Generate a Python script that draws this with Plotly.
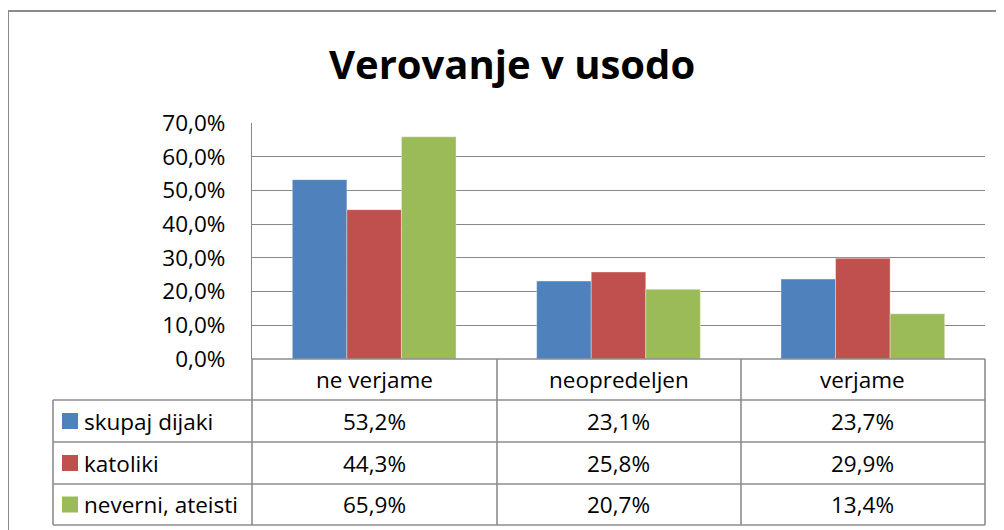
import plotly.graph_objects as go

categories = ["ne verjame", "neopredeljen", "verjame"]
series_names = ["skupaj dijaki", "katoliki", "neverni, ateisti"]
skupaj_dijaki = [0.532, 0.231, 0.237]
katoliki = [0.443, 0.258, 0.299]
neverni_ateisti = [0.659, 0.207, 0.134]
colors = ["#4F81BD", "#C0504D", "#9BBB59"]
y_ticks = [0.0, 0.1, 0.2, 0.3, 0.4, 0.5, 0.6, 0.7]
title_text = "Verovanje v usodo"

series_values = [skupaj_dijaki, katoliki, neverni_ateisti]

W, H = 1004, 530
OFF = 8  # page body margin
FONT = "'Open Sans', sans-serif"
FS = 22.5
GRID = "#878787"
TABLE_LINE = "#8c8c8c"


def px(x):
    return (x - OFF) / W


def py(y):
    return 1 - (y - OFF) / H


fig = go.Figure()
for name, vals, col in zip(series_names, series_values, colors):
    fig.add_trace(go.Bar(x=categories, y=vals, name=name, marker_color=col,
                         marker_line_width=0.6, marker_line_color="rgba(255,255,255,0.6)"))

plot_left, plot_right, plot_top, plot_bottom = 252, 985, 123, 359
row_lines = [359, 400, 442, 484, 525]
col_lines = [252, 497, 741, 985]
table_left = 53

shapes = []
# outer chart border
shapes.append(dict(type="rect", xref="paper", yref="paper", x0=px(8), x1=px(1030), y0=py(560), y1=py(11),
                   line=dict(color="#8a8a8a", width=2), fillcolor="rgba(0,0,0,0)", layer="below"))
# table horizontal lines
for i, ry in enumerate(row_lines):
    x0 = plot_left if i == 0 else table_left
    shapes.append(dict(type="line", xref="paper", yref="paper", x0=px(x0), x1=px(col_lines[-1]),
                       y0=py(ry), y1=py(ry), line=dict(color=TABLE_LINE, width=1.6)))
# table vertical lines
for cx in col_lines:
    shapes.append(dict(type="line", xref="paper", yref="paper", x0=px(cx), x1=px(cx),
                       y0=py(row_lines[0]), y1=py(row_lines[-1]), line=dict(color=TABLE_LINE, width=1.6)))
shapes.append(dict(type="line", xref="paper", yref="paper", x0=px(table_left), x1=px(table_left),
                   y0=py(row_lines[1]), y1=py(row_lines[-1]), line=dict(color=TABLE_LINE, width=1.6)))

annotations = []
# header row
for c in categories:
    annotations.append(dict(x=c, xref="x", y=py((row_lines[0] + row_lines[1]) / 2), yref="paper",
                            text=c, showarrow=False, font=dict(size=FS, color="#000", family=FONT),
                            xanchor="center", yanchor="middle"))
# data rows
for r, (name, vals, col) in enumerate(zip(series_names, series_values, colors)):
    yc = (row_lines[r + 1] + row_lines[r + 2]) / 2
    shapes.append(dict(type="rect", xref="paper", yref="paper", x0=px(62), x1=px(78),
                       y0=py(yc + 8), y1=py(yc - 8), fillcolor=col, line=dict(width=0)))
    annotations.append(dict(x=px(82), xref="paper", y=py(yc), yref="paper", text=name, showarrow=False,
                            font=dict(size=FS, color="#000", family=FONT), xanchor="left", yanchor="middle"))
    for c, v in zip(categories, vals):
        annotations.append(dict(x=c, xref="x", y=py(yc), yref="paper",
                                text=f"{v * 100:.1f}%".replace(".", ","), showarrow=False,
                                font=dict(size=FS, color="#000", family=FONT),
                                xanchor="center", yanchor="middle"))
# title
annotations.append(dict(x=px(512), xref="paper", y=py(64), yref="paper", text="<b>" + title_text + "</b>",
                        showarrow=False, font=dict(size=40, color="#000", family=FONT),
                        xanchor="center", yanchor="middle"))

fig.update_layout(
    width=W, height=H, margin=dict(l=0, r=0, t=0, b=0, pad=0),
    paper_bgcolor="white", plot_bgcolor="white",
    separators=",.",
    barmode="group", bargap=0.33, bargroupgap=0,
    showlegend=False,
    font=dict(family=FONT, size=FS, color="#000"),
    shapes=shapes, annotations=annotations,
    xaxis=dict(domain=[px(plot_left), px(plot_right)], showticklabels=False, ticks="",
               showgrid=False, showline=False, zeroline=False, automargin=False),
    yaxis=dict(domain=[py(plot_bottom), py(plot_top)], range=[0, 0.7], tickvals=y_ticks,
               tickformat=".1%", showgrid=True, gridcolor=GRID, gridwidth=1.2,
               showline=True, linecolor=GRID, linewidth=1.2, zeroline=False, automargin=False,
               ticks="", ticklabelstandoff=21, tickfont=dict(size=FS, color="#000", family=FONT)),
)

fig.write_html("out.html")
